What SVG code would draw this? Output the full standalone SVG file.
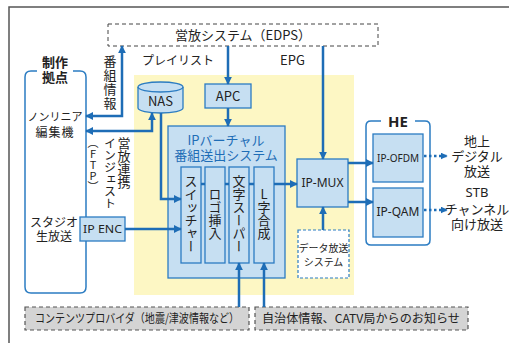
<svg xmlns="http://www.w3.org/2000/svg" width="509" height="343" viewBox="0 0 509 343">
<defs>
<marker id="ah" viewBox="0 0 10 10" refX="9" refY="5" markerWidth="8" markerHeight="8" markerUnits="userSpaceOnUse" orient="auto-start-reverse">
<path d="M0,0 L10,5 L0,10 Z" fill="#1e6db6"/>
</marker>
<marker id="ahs" viewBox="0 0 10 10" refX="9" refY="5" markerWidth="7" markerHeight="7" markerUnits="userSpaceOnUse" orient="auto">
<path d="M0,0 L10,5 L0,10 Z" fill="#1e6db6"/>
</marker>
<style>
text{font-family:"Noto Sans CJK JP","Noto Sans",sans-serif;fill:#222;}
.t13{font-size:13px;}
.t12{font-size:12px;}
.t11{font-size:11px;}
.t10{font-size:10px;}
.mid{text-anchor:middle;}
.b{font-weight:bold;}
.vt{writing-mode:vertical-rl;text-orientation:upright;}
.box{fill:#c6dff2;stroke:#2b7cc2;stroke-width:1.3;}
.grp{fill:none;stroke:#2b7cc2;stroke-width:1.5;}
.dash{fill:#fff;stroke:#444;stroke-width:1;stroke-dasharray:4 3;}
.gray{fill:#d4d4d4;stroke:#555;stroke-width:1.2;stroke-dasharray:4 3;}
.ln{fill:none;stroke:#1e6db6;stroke-width:2.5;}
.arr{fill:none;stroke:#1e6db6;stroke-width:2.5;marker-end:url(#ah);}
.arr2{fill:none;stroke:#1e6db6;stroke-width:2.5;marker-start:url(#ah);marker-end:url(#ah);}
.dot{fill:none;stroke:#1e6db6;stroke-width:2.5;stroke-dasharray:2.5 2.5;marker-end:url(#ahs);}
</style>
</defs>
<path d="M9,343 V7 H509" fill="none" stroke="#555" stroke-width="1.5"/>
<rect x="134" y="75" width="220" height="220" fill="#fdf7c4"/>

<g id="edps">
<rect class="dash" x="108" y="24" width="270" height="22"/>
<text class="t13 mid" x="243" y="40">営放システム（EDPS）</text>
</g>
<text class="t12" x="142" y="65">プレイリスト</text>
<text class="t13" x="280" y="65">EPG</text>

<g id="seisaku">
<path class="grp" d="M37,71 H31 Q25,71 25,77 V287 Q25,293 31,293 H80 Q86,293 86,287 V77 Q86,71 80,71 H73"/>
<text class="t13 mid b" x="55" y="67">制作</text>
<text class="t13 mid b" x="55" y="82">拠点</text>
<text class="t11 mid" x="55" y="121">ノンリニア</text>
<text class="t12 mid" x="55" y="137" letter-spacing="1">編集機</text>
<text class="t12 mid" x="54" y="227">スタジオ</text>
<text class="t12 mid" x="54" y="241">生放送</text>
</g>

<g id="ipenc">
<rect class="box" x="80" y="217" width="45" height="24"/>
<text class="t11 mid" x="102.5" y="233" style="font-family:'Noto Sans',sans-serif" textLength="39" lengthAdjust="spacingAndGlyphs">IP ENC</text>
</g>

<text class="t13 vt" x="110" y="55" letter-spacing="1">番組情報</text>
<text class="t13 vt" x="124" y="137">営放連携</text>
<text class="t12 vt" x="110" y="137">インジェスト</text>
<text class="t11 vt" x="93" y="137">（FTP）</text>

<g id="nas">
<path class="box" d="M138,87 A22.5,5 0 0 1 183,87 V108 A22.5,5 0 0 1 138,108 Z"/>
<path fill="none" stroke="#2b7cc2" stroke-width="1.3" d="M138,87 A22.5,5 0 0 0 183,87"/>
<text class="t13 mid" x="160.5" y="106">NAS</text>
</g>

<g id="apc">
<rect class="box" x="205" y="84" width="46" height="24"/>
<text class="t13 mid" x="228" y="101">APC</text>
</g>

<g id="virtual">
<rect class="box" x="168" y="126" width="117" height="152"/>
<text class="t13 mid" x="226" y="145" style="fill:#1e6db6">IPバーチャル</text>
<text class="t13 mid" x="226" y="160" style="fill:#1e6db6">番組送出システム</text>
</g>
<g id="switcher">
<rect class="box" x="181" y="167" width="20" height="96"/>
<text class="t13 vt mid" x="191" y="214">スイッチャー</text>
</g>
<g id="logo">
<rect class="box" x="205" y="167" width="20" height="96"/>
<text class="t13 vt mid" x="215" y="214">ロゴ挿入</text>
</g>
<g id="super">
<rect class="box" x="229" y="167" width="20" height="96"/>
<text class="t13 vt mid" x="239" y="214">文字スーパー</text>
</g>
<g id="lji">
<rect class="box" x="254" y="167" width="20" height="96"/>
<text class="t13 vt mid" x="264" y="214">L字合成</text>
</g>

<g id="ipmux">
<rect class="box" x="297" y="159" width="51" height="48"/>
<text class="t12 mid" x="322.5" y="187" style="font-family:'Noto Sans',sans-serif">IP-MUX</text>
</g>
<g id="datasys">
<rect x="298" y="230" width="51" height="48" fill="#fff" stroke="#2b7cc2" stroke-width="1.2" stroke-dasharray="3 2"/>
<text class="t10 mid" x="323.5" y="252">データ放送</text>
<text class="t10 mid" x="323.5" y="266">システム</text>
</g>

<g id="he">
<path class="grp" d="M381,121 H371 Q366,121 366,126 V240 Q366,245 371,245 H425 Q430,245 430,240 V126 Q430,121 425,121 H415"/>
<text class="mid b" x="398" y="127" style="font-size:15px;font-family:'Noto Sans',sans-serif">HE</text>
</g>
<g id="ipofdm">
<rect class="box" x="373" y="134" width="50" height="48"/>
<text class="t11 mid" x="398" y="162" style="font-family:'Noto Sans',sans-serif" textLength="42" lengthAdjust="spacingAndGlyphs">IP-OFDM</text>
</g>
<g id="ipqam">
<rect class="box" x="373" y="188" width="50" height="49"/>
<text class="t12 mid" x="398" y="216" style="font-family:'Noto Sans',sans-serif">IP-QAM</text>
</g>

<g id="out1">
<text class="t13 mid" x="477" y="146">地上</text>
<text class="t13 mid" x="477" y="161">デジタル</text>
<text class="t13 mid" x="477" y="176">放送</text>
</g>
<g id="out2">
<text class="t13 mid" x="477" y="197" style="font-family:'Noto Sans',sans-serif">STB</text>
<text class="t13 mid" x="477" y="214">チャンネル</text>
<text class="t13 mid" x="477" y="229">向け放送</text>
</g>

<g id="provider">
<rect class="gray" x="25" y="307" width="224" height="23"/>
<text class="t12 mid" x="137" y="323" textLength="204" lengthAdjust="spacingAndGlyphs">コンテンツプロバイダ（地震/津波情報など）</text>
</g>
<g id="jichitai">
<rect class="gray" x="255" y="307" width="213" height="23"/>
<text class="t12 mid" x="361" y="323" textLength="198" lengthAdjust="spacingAndGlyphs">自治体情報、CATV局からのお知らせ</text>
</g>

<g id="connectors">
<line class="arr" x1="228" y1="46" x2="228" y2="84"/>
<line class="arr" x1="228" y1="108" x2="228" y2="126"/>
<line class="arr" x1="323" y1="46" x2="323" y2="159"/>
<path class="arr2" d="M86,116 H122 V46"/>
<path class="arr2" d="M86,131 H152 V113"/>
<path class="arr" d="M161,113 V199 H181"/>
<line class="arr" x1="125" y1="229" x2="181" y2="229"/>
<line class="ln" x1="201" y1="184" x2="205" y2="184"/>
<line class="ln" x1="225" y1="184" x2="229" y2="184"/>
<line class="ln" x1="249" y1="184" x2="254" y2="184"/>
<line class="arr" x1="274" y1="184" x2="297" y2="184"/>
<line class="arr" x1="323" y1="230" x2="323" y2="207"/>
<line class="arr" x1="348" y1="163" x2="373" y2="163"/>
<line class="arr" x1="348" y1="202" x2="373" y2="202"/>
<line class="dot" x1="424" y1="156" x2="447" y2="156"/>
<line class="dot" x1="424" y1="210" x2="447" y2="210"/>
<line class="arr" x1="239" y1="307" x2="239" y2="263"/>
<line class="arr" x1="264" y1="307" x2="264" y2="263"/>
</g>
</svg>
